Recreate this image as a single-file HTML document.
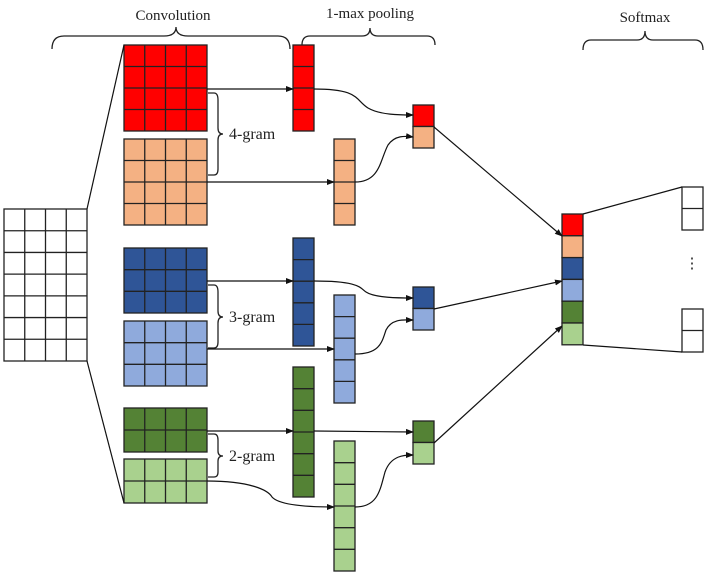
<!DOCTYPE html>
<html><head><meta charset="utf-8"><style>body{margin:0;background:#fff}svg{display:block}text{font-family:"Liberation Serif",serif;fill:#222}</style></head>
<body>
<svg id="s" width="708" height="577" viewBox="0 0 708 577" xmlns="http://www.w3.org/2000/svg">
<defs><marker id="a" markerWidth="8" markerHeight="8" refX="7" refY="4" orient="auto" markerUnits="userSpaceOnUse"><path d="M0,1 L8,4 L0,7 Z" fill="#111"/></marker></defs>
<g fill="none" stroke="#222" stroke-width="1.3">
<path d="M52,49 Q52,36 64,36 L164,36 Q176,36 176,27 Q176,36 188,36 L278,36 Q290,36 290,49"/>
<path d="M302,45 Q302,36 310,36 L362,36 Q370,36 370,28 Q370,36 378,36 L427,36 Q435,36 435,45"/>
<path d="M583,50 Q583,40 591,40 L637,40 Q645,40 645,31 Q645,40 653,40 L695,40 Q703,40 703,50"/>
<path d="M208,93 L214,93 Q218,93 218,100 L218,128 Q218,134 223,134 Q218,134 218,140 L218,169 Q218,175 214,175 L208,175"/>
<path d="M208,285 L214,285 Q218,285 218,292 L218,311 Q218,317 223,317 Q218,317 218,323 L218,342 Q218,348 214,348 L208,348"/>
<path d="M208,434 L214,434 Q218,434 218,440 L218,451 Q218,456 223,456 Q218,456 218,461 L218,472 Q218,477 214,477 L208,477"/>
</g>
<text x="173" y="20" font-size="15" text-anchor="middle">Convolution</text>
<text x="370" y="18" font-size="15" text-anchor="middle">1-max pooling</text>
<text x="645" y="22" font-size="15" text-anchor="middle">Softmax</text>
<text x="229" y="139" font-size="16">4-gram</text>
<text x="229" y="322" font-size="16">3-gram</text>
<text x="229" y="461" font-size="16">2-gram</text>
<text x="692" y="268" font-size="15" text-anchor="middle">⋮</text>
<g id="g"></g>
<g fill="none" stroke="#111" stroke-width="1.2">
<line x1="87" y1="209" x2="124" y2="45"/><line x1="87" y1="361" x2="124" y2="503"/>
<line x1="583" y1="214" x2="682" y2="187"/><line x1="583" y1="345" x2="682" y2="352"/>
<g marker-end="url(#a)">
<line x1="207" y1="89" x2="293" y2="89"/>
<path d="M314,89 C360,89 355,100 368,108 C380,115 400,115 413,115"/>
<line x1="207" y1="182" x2="334" y2="182"/>
<path d="M355,182 C380,182 380,160 388,145 C395,135 405,136 413,137"/>
<line x1="207" y1="281" x2="293" y2="281"/>
<path d="M314,281 C360,281 360,288 366,292 C375,298 400,298 413,298"/>
<line x1="207" y1="349" x2="334" y2="349"/>
<path d="M355,354 C380,354 382,342 386,330 C392,318 405,320 413,320"/>
<line x1="207" y1="431" x2="293" y2="431"/>
<line x1="314" y1="431" x2="413" y2="432"/>
<path d="M207,481 C250,481 268,490 272,497 C280,506 315,507 334,507"/>
<path d="M355,507 C378,507 380,490 385,472 C391,455 405,455 413,455"/>
<line x1="434" y1="127" x2="562" y2="236"/>
<line x1="434" y1="309" x2="562" y2="281"/>
<line x1="434" y1="443" x2="562" y2="326"/>
</g></g>
</svg>
<script>
var g=document.getElementById('g'),h='';
function grid(x,y,w,hh,c,r,f){var cw=w/c,ch=hh/r;h+='<rect x="'+x+'" y="'+y+'" width="'+w+'" height="'+hh+'" fill="'+f+'" stroke="#222" stroke-width="1.3"/>';
for(var i=1;i<c;i++)h+='<line x1="'+(x+i*cw)+'" y1="'+y+'" x2="'+(x+i*cw)+'" y2="'+(y+hh)+'" stroke="#222" stroke-width="1.3"/>';
for(var j=1;j<r;j++)h+='<line x1="'+x+'" y1="'+(y+j*ch)+'" x2="'+(x+w)+'" y2="'+(y+j*ch)+'" stroke="#222" stroke-width="1.3"/>';}
var R='#ff0000',O='#f4b183',B='#2f5597',LB='#8faadc',G='#548235',LG='#a9d18e';
grid(4,209,83,152,4,7,'#fff');
grid(124,45,83,86,4,4,R);grid(124,139,83,86,4,4,O);
grid(124,248,83,65,4,3,B);grid(124,321,83,65,4,3,LB);
grid(124,408,83,44,4,2,G);grid(124,459,83,44,4,2,LG);
grid(293,45,21,86,1,4,R);grid(334,139,21,86,1,4,O);
grid(293,238,21,108,1,5,B);grid(334,295,21,108,1,5,LB);
grid(293,367,21,130,1,6,G);grid(334,441,21,130,1,6,LG);
[[105,R,O],[287,B,LB],[421,G,LG]].forEach(function(p){grid(413,p[0],21,21.5,1,1,p[1]);grid(413,p[0]+21.5,21,21.5,1,1,p[2]);});
[R,O,B,LB,G,LG].forEach(function(c,i){grid(562,214+i*21.8,21,21.8,1,1,c);});
grid(682,187,21,43,1,2,'#fff');grid(682,309,21,43,1,2,'#fff');
g.innerHTML=h;
</script>
</body></html>
